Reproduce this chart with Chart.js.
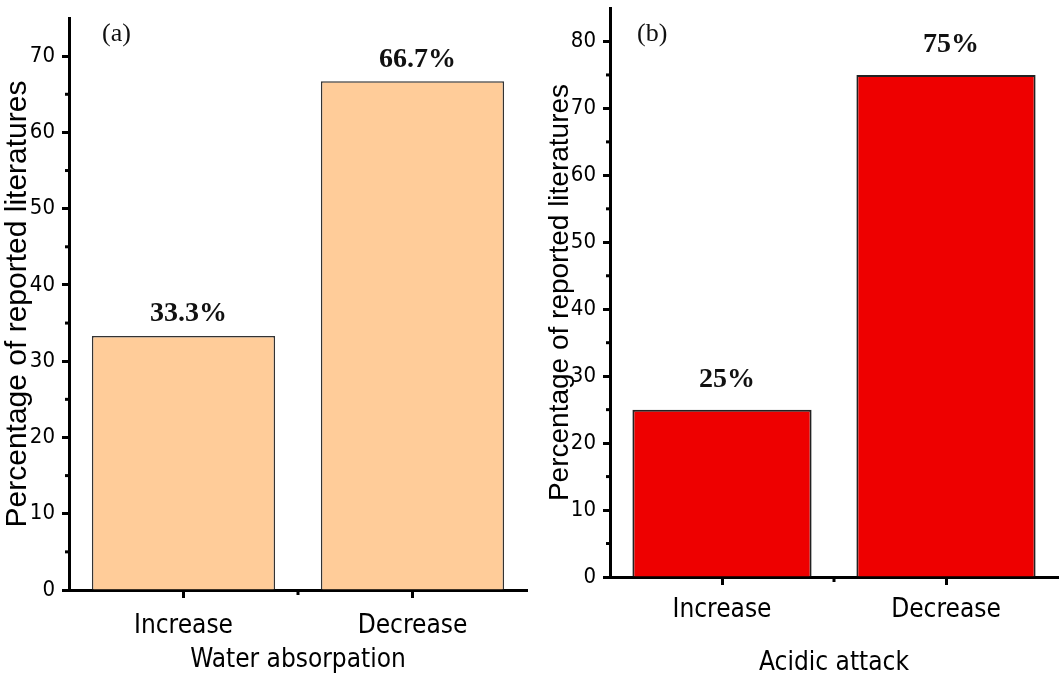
<!DOCTYPE html>
<html>
<head>
<meta charset="utf-8">
<script src="https://cdn.jsdelivr.net/npm/chart.js@4"></script>
<style>
  body { margin: 0; background: #fff; }
  .panel { position: absolute; top: 0; }
</style>
</head>
<body>
<div class="panel" style="left:0px"><canvas id="chartA" width="530" height="679"></canvas></div>
<div class="panel" style="left:530px"><canvas id="chartB" width="531" height="679"></canvas></div>
<script>
// data
const categories = ['Increase', 'Decrease'];
const waterValues = [33.3, 66.7];
const waterLabels = ['33.3%', '66.7%'];
const acidValues = [25, 75];
const acidLabels = ['25%', '75%'];

const narrow = "'Liberation Sans Narrow', 'Arial Narrow', 'DejaVu Sans Condensed', sans-serif";
const sans = "'Liberation Sans', Arial, sans-serif";
const serif = "'Liberation Serif', 'Times New Roman', serif";

// value labels, panel letter and minor ticks
const extras = {
  id: 'extras',
  afterDraw(chart, args, opts) {
    const ctx = chart.ctx;
    const meta = chart.getDatasetMeta(0);
    ctx.save();
    ctx.fillStyle = '#111';
    ctx.font = 'bold 28px ' + serif;
    ctx.textAlign = 'center';
    ctx.textBaseline = 'middle';
    meta.data.forEach((bar, i) => {
      ctx.fillText(opts.labels[i], bar.x + 5, bar.y - opts.dy);
    });
    ctx.font = '26px ' + serif;
    ctx.textAlign = 'left';
    ctx.fillText(opts.letter, chart.chartArea.left + opts.letterX, 34);

    const y = chart.scales.y, x = chart.scales.x;
    ctx.strokeStyle = '#000';
    ctx.lineWidth = 3;
    for (let v = 5; v < y.max; v += 10) {
      const py = y.getPixelForValue(v);
      ctx.beginPath(); ctx.moveTo(y.right - 4, py); ctx.lineTo(y.right, py); ctx.stroke();
    }
    const mx = (x.getPixelForValue(0) + x.getPixelForValue(1)) / 2;
    ctx.beginPath(); ctx.moveTo(mx, x.top); ctx.lineTo(mx, x.top + 5); ctx.stroke();
    ctx.restore();
  }
};

function makeChart(id, values, labels, o) {
  return new Chart(document.getElementById(id), {
    type: 'bar',
    data: {
      labels: categories,
      datasets: [{
        data: values,
        backgroundColor: o.fill,
        borderColor: o.border,
        borderWidth: o.borderWidth,
        categoryPercentage: 1,
        barPercentage: 0.8
      }]
    },
    plugins: [extras],
    options: {
      responsive: false,
      animation: false,
      layout: { padding: { left: 0, right: o.right, top: o.top, bottom: 0 } },
      plugins: {
        legend: { display: false },
        tooltip: { enabled: false },
        extras: { labels: labels, dy: o.dy, letter: o.letter, letterX: o.letterX }
      },
      scales: {
        x: {
          offset: true,
          grid: { offset: false, drawOnChartArea: false, tickLength: 8, tickWidth: 3, tickColor: '#000' },
          border: { color: '#000', width: 3 },
          ticks: { color: '#000', font: { family: narrow, size: 26 }, padding: o.xPad },
          title: { display: true, text: o.xTitle, color: '#000', font: { family: narrow, size: 26 },
                   padding: { top: 0, bottom: o.xTitlePad } },
          afterFit: s => { s.height = o.xHeight; s.paddingLeft = 0; s.paddingRight = 0; }
        },
        y: {
          min: 0,
          max: o.max,
          ticks: { stepSize: 10, color: '#000', font: { family: narrow, size: 22 }, padding: 7 },
          grid: { drawOnChartArea: false, tickLength: 7, tickWidth: 3, tickColor: '#000' },
          border: { color: '#000', width: 3 },
          title: { display: true, text: 'Percentage of reported literatures', color: '#000',
                   font: { family: sans, size: o.yTitleSize }, padding: { top: o.yTitlePad, bottom: 0 } },
          afterBuildTicks: s => { s.ticks = s.ticks.filter(t => t.value % 10 === 0); },
          afterFit: s => { s.width = o.yWidth; s.paddingTop = 0; s.paddingBottom = 0; }
        }
      }
    }
  });
}

makeChart('chartA', waterValues, waterLabels, {
  fill: '#FFCC99', border: '#333', borderWidth: 1.5, max: 75,
  right: 3, top: 18, xHeight: 89, yWidth: 69, xPad: 13, xTitlePad: 3,
  xTitle: 'Water absorpation', yTitleSize: 30, yTitlePad: 0,
  dy: 22, letter: '(a)', letterX: 33
});

makeChart('chartB', acidValues, acidLabels, {
  fill: '#EE0000', border: '#222', borderWidth: 2, max: 85,
  right: 3, top: 8, xHeight: 102, yWidth: 80, xPad: 10, xTitlePad: 0,
  xTitle: 'Acidic attack', yTitleSize: 28, yTitlePad: 13,
  dy: 30, letter: '(b)', letterX: 27
});
</script>
</body>
</html>
